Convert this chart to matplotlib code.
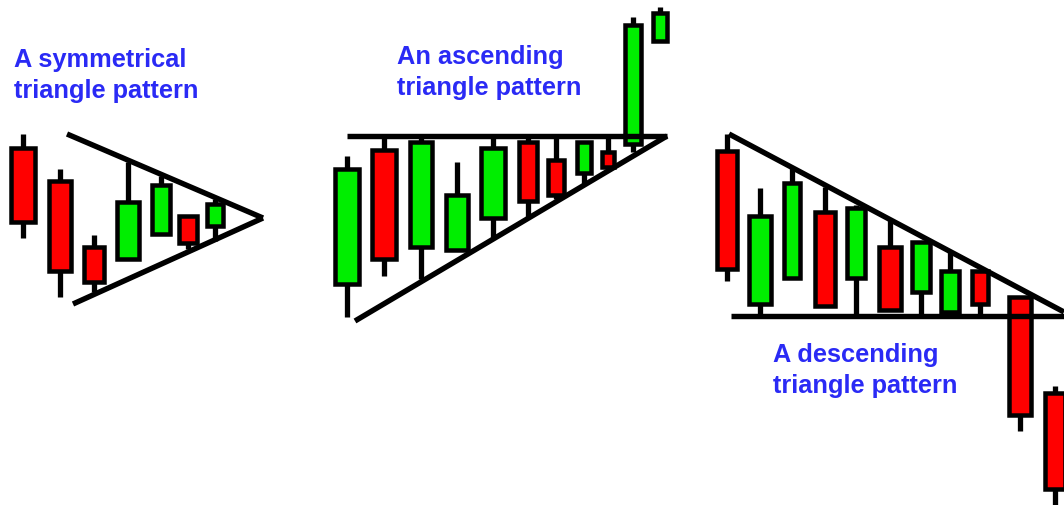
import matplotlib
matplotlib.use("Agg")
import matplotlib.pyplot as plt

# Candles as open / close / high / low (y measured down from the top, like the picture)
sym_open = [149, 182, 248, 260, 235, 217, 227]
sym_close = [223, 272, 283, 203, 186, 244, 205]
sym_high = [135, 170, 236, 163, 177, 217, 200]
sym_low = [239, 298, 293, 260, 235, 250, 242]

asc_open = [285, 151, 248, 251, 219, 143, 161, 174, 153, 145, 42]
asc_close = [170, 260, 143, 196, 149, 202, 196, 143, 168, 26, 14]
asc_high = [157, 137, 137, 163, 137, 137, 137, 143, 137, 18, 8]
asc_low = [318, 277, 280, 251, 240, 218, 200, 185, 172, 153, 42]

desc_open = [152, 305, 279, 213, 279, 248, 293, 313, 272, 298, 394]
desc_close = [270, 217, 184, 307, 209, 311, 243, 272, 305, 416, 490]
desc_high = [135, 189, 168, 188, 206, 220, 243, 253, 272, 298, 387]
desc_low = [282, 317, 279, 307, 317, 311, 317, 313, 317, 432, 506]

# Trend lines (x0, y0, x1, y1)
sym_lines = [(67, 135, 263, 219), (73, 305, 263, 219)]
asc_lines = [(347, 137, 667, 137), (355, 322, 667, 137)]
desc_lines = [(729, 135, 1064, 313), (731, 317, 1064, 317)]

labels = [("A symmetrical", "triangle pattern"),
          ("An ascending", "triangle pattern"),
          ("A descending", "triangle pattern")]

# layout: candle centres and widths, label anchors
sym_x = [23, 60, 94, 128, 161, 188, 215]
sym_w = [28, 27, 24, 26, 22, 22, 21]
asc_x = [347, 384, 421, 457, 493, 528, 556, 584, 608, 633, 660]
asc_w = [29, 28, 26, 27, 28, 23, 20, 18, 17, 20, 18]
desc_x = [727, 760, 792, 825, 856, 890, 921, 950, 980, 1020, 1055]
desc_w = [24, 26, 21, 25, 23, 26, 22, 22, 21, 26, 24]
label_pos = [(14, 67, 98), (397, 64, 95), (773, 362, 393)]

fig = plt.figure(figsize=(10.64, 5.06), dpi=100)
ax = fig.add_axes([0, 0, 1, 1])
ax.set_xlim(0, 1064)
ax.set_ylim(506, 0)
ax.axis("off")

EDGE = 4.5  # px


def candles(xs, ws, o, c, h, l):
    for x, w, op, cl, hi, lo in zip(xs, ws, o, c, h, l):
        col = "#00ee00" if cl < op else "#ff0000"
        top, bot = min(op, cl), max(op, cl)
        ax.vlines(x, hi, lo, color="black", lw=3.8, zorder=2)
        ax.bar(x, bot - top, bottom=top, width=w - EDGE, color=col,
               edgecolor="black", linewidth=EDGE * 0.72, zorder=3)


def lines(segs):
    for x0, y0, x1, y1 in segs:
        ax.plot([x0, x1], [y0, y1], color="black", lw=3.9,
                solid_capstyle="butt", zorder=4)


candles(sym_x, sym_w, sym_open, sym_close, sym_high, sym_low)
candles(asc_x, asc_w, asc_open, asc_close, asc_high, asc_low)
candles(desc_x, desc_w, desc_open, desc_close, desc_high, desc_low)
lines(sym_lines)
lines(asc_lines)
lines(desc_lines)

txt = dict(color="#2a2af5", fontsize=18.3, fontweight="bold",
           family="Liberation Sans", va="baseline")
for (l1, l2), (x, y1, y2) in zip(labels, label_pos):
    ax.text(x, y1, l1, **txt)
    ax.text(x, y2, l2, **txt)

fig.savefig("out.png", dpi=100)
